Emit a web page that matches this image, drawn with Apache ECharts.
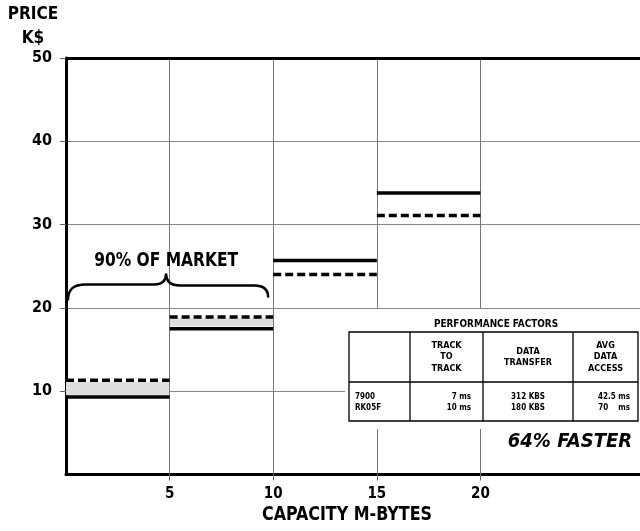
<!DOCTYPE html>
<html>
<head>
<meta charset="utf-8">
<script src="https://cdn.jsdelivr.net/npm/echarts@6/dist/echarts.min.js"></script>
<style>
html,body{margin:0;padding:0;background:#fff;}
#chart{width:640px;height:531px;}
</style>
</head>
<body>
<div id="chart"></div>
<script>
// ---- data ----
const xTickLabels = [5, 10, 15, 20];
const yTickLabels = [10, 20, 30, 40, 50];
const segStart = [0, 5, 10, 15];
const segEnd = [5, 10, 15, 20];
const priceSolid = [9.3, 17.5, 25.7, 33.8];
const priceDashed = [11.3, 18.9, 24.0, 31.1];
const bandStart = [0, 5];
const bandEnd = [5, 10];
const bandLow = [9.5, 17.8];
const bandHigh = [11.1, 18.8];
const marketRange = [0, 10];
const marketLabel = '90% OF MARKET';
const yAxisTitle = ['PRICE', 'K$'];
const xAxisTitle = 'CAPACITY M-BYTES';
const tableTitle = 'PERFORMANCE FACTORS';
const tableHeaders = ['', 'TRACK\nTO\nTRACK', 'DATA\nTRANSFER', 'AVG\nDATA\nACCESS'];
const tableRow = ['7900\nRK05F', '7 ms\n10 ms', '312 KBS\n180 KBS', '42.5 ms\n70    ms'];
const speedNote = '64% FASTER';

// ---- chart ----
const FONT = "'DejaVu Sans Condensed', 'Liberation Sans', sans-serif";
const chart = echarts.init(document.getElementById('chart'), null, {renderer: 'canvas'});

function segmentRenderer(width, dash) {
  return function (params, api) {
    const p0 = api.coord([api.value(0), api.value(2)]);
    const p1 = api.coord([api.value(1), api.value(2)]);
    return {
      type: 'line',
      shape: {x1: p0[0], y1: p0[1], x2: p1[0], y2: p1[1]},
      style: {stroke: '#000', lineWidth: width, lineDash: dash, lineCap: 'butt'}
    };
  };
}

// table layout (pixels)
const colX = [349, 410, 483, 573, 638];
const rowY = [332, 382, 421];
const tableGraphics = [];
tableGraphics.push({type: 'rect', z: 100, shape: {x: 345, y: 309, width: 300, height: 120}, style: {fill: '#fff'}});
tableGraphics.push({type: 'text', z: 101, x: 496, y: 324, scaleX: 0.9, style: {text: tableTitle, font: 'bold 11px ' + FONT, fill: '#000', align: 'center', verticalAlign: 'middle'}});
tableGraphics.push({type: 'rect', z: 101, shape: {x: colX[0], y: rowY[0], width: colX[4] - colX[0], height: rowY[2] - rowY[0]}, style: {fill: 'none', stroke: '#000', lineWidth: 1.3}});
tableGraphics.push({type: 'line', z: 101, shape: {x1: colX[0], y1: rowY[1], x2: colX[4], y2: rowY[1]}, style: {stroke: '#000', lineWidth: 1.3}});
for (let i = 1; i < 4; i++) {
  tableGraphics.push({type: 'line', z: 101, shape: {x1: colX[i], y1: rowY[0], x2: colX[i], y2: rowY[2]}, style: {stroke: '#000', lineWidth: 1.3}});
}
tableHeaders.forEach((t, i) => {
  if (!t) return;
  tableGraphics.push({type: 'text', z: 102, x: (colX[i] + colX[i + 1]) / 2, y: (rowY[0] + rowY[1]) / 2,
    style: {text: t, font: 'bold 9px ' + FONT, lineHeight: 11.5, fill: '#000', align: 'center', verticalAlign: 'middle'}});
});
tableRow.forEach((t, i) => {
  let x = (colX[i] + colX[i + 1]) / 2, align = 'center';
  if (i === 0) { x = colX[0] + 6; align = 'left'; }
  if (i === 1) { x = colX[2] - 12; align = 'right'; }
  if (i === 3) { x = colX[4] - 8; align = 'right'; }
  tableGraphics.push({type: 'text', z: 102, x: x, y: (rowY[1] + rowY[2]) / 2 + 1,
    style: {text: t, font: 'bold 8px ' + FONT, lineHeight: 11, fill: '#000', align: align, verticalAlign: 'middle'}});
});
tableGraphics.push({type: 'text', z: 102, x: 570, y: 442,
  style: {text: speedNote, font: 'italic bold 20px ' + FONT, fill: '#000', align: 'center', verticalAlign: 'middle'}});
tableGraphics.push({type: 'text', z: 102, x: 33, y: 14, scaleX: 0.95,
  style: {text: yAxisTitle[0], font: 'bold 18px ' + FONT, fill: '#000', align: 'center', verticalAlign: 'middle'}});
tableGraphics.push({type: 'text', z: 102, x: 33, y: 38, scaleX: 0.95,
  style: {text: yAxisTitle[1], font: 'bold 18px ' + FONT, fill: '#000', align: 'center', verticalAlign: 'middle'}});
tableGraphics.push({type: 'text', z: 102, x: 347, y: 515, scaleX: 0.93,
  style: {text: xAxisTitle, font: 'bold 19px ' + FONT, fill: '#000', align: 'center', verticalAlign: 'middle'}});

const option = {
  animation: false,
  backgroundColor: '#fff',
  grid: {left: 66, right: 0, top: 58, bottom: 56.5, containLabel: false},
  xAxis: {
    type: 'value', min: 0, max: 27.7, interval: 5,
    axisLine: {show: true, lineStyle: {color: '#000', width: 3}},
    axisTick: {show: true, customValues: xTickLabels, length: 6, lineStyle: {color: '#666', width: 1}},
    axisLabel: {customValues: xTickLabels, color: '#000', fontFamily: FONT, fontWeight: 'bold', fontSize: 15, margin: 12},
    splitLine: {show: false}
  },
  yAxis: {
    type: 'value', min: 0, max: 50, interval: 10,
    axisLine: {show: true, lineStyle: {color: '#000', width: 3}},
    axisTick: {show: true, customValues: yTickLabels, length: 6, lineStyle: {color: '#666', width: 1}},
    axisLabel: {customValues: yTickLabels, color: '#000', fontFamily: FONT, fontWeight: 'bold', fontSize: 16, margin: 14},
    splitLine: {show: true, lineStyle: {color: '#888', width: 1}}
  },
  graphic: tableGraphics,
  series: [
    {
      type: 'custom', name: 'band',
      data: bandStart.map((s, i) => [s, bandEnd[i], bandLow[i], bandHigh[i]]),
      encode: {x: [0, 1], y: [2, 3]},
      renderItem: function (params, api) {
        const a = api.coord([api.value(0), api.value(3)]);
        const b = api.coord([api.value(1), api.value(2)]);
        return {type: 'rect', shape: {x: a[0], y: a[1], width: b[0] - a[0], height: b[1] - a[1]},
          style: {fill: '#dedede'}};
      },
      z: 3
    },
    {
      type: 'custom', name: 'RK05F',
      data: segStart.map((s, i) => [s, segEnd[i], priceDashed[i]]),
      encode: {x: [0, 1], y: 2},
      renderItem: segmentRenderer(3.5, [8, 4]),
      z: 5
    },
    {
      type: 'custom', name: '7900',
      data: segStart.map((s, i) => [s, segEnd[i], priceSolid[i]]),
      encode: {x: [0, 1], y: 2},
      renderItem: segmentRenderer(3.5, null),
      z: 5,
      markLine: {
        silent: true, symbol: 'none', animation: false,
        label: {show: false},
        data: xTickLabels.map(v => ({xAxis: v, lineStyle: {color: '#777', width: 1, type: 'solid'}}))
          .concat([{yAxis: yTickLabels[yTickLabels.length - 1], lineStyle: {color: '#000', width: 3, type: 'solid'}}])
      }
    },
    {
      type: 'custom', name: 'market',
      data: [[marketRange[0], marketRange[1]]],
      encode: {x: [0, 1]},
      renderItem: function (params, api) {
        const pL = api.coord([api.value(0), 21]);
        const pR = api.coord([api.value(1), 21]);
        const L = pL[0] + 2, R = pR[0] - 5, B = pL[1] + 1, M = (L + R) / 2 - 2;
        const bar = B - 16, tip = B - 27;
        const d = 'M' + L + ' ' + B + ' C' + L + ' ' + (B - 11) + ' ' + (L + 5) + ' ' + bar + ' ' + (L + 18) + ' ' + bar +
          ' L' + (M - 12) + ' ' + bar + ' C' + (M - 4) + ' ' + bar + ' ' + M + ' ' + (bar - 4) + ' ' + M + ' ' + tip +
          ' C' + M + ' ' + (bar - 4) + ' ' + (M + 4) + ' ' + (bar + 1) + ' ' + (M + 14) + ' ' + (bar + 1) +
          ' L' + (R - 14) + ' ' + (bar + 1) + ' C' + (R - 4) + ' ' + (bar + 1) + ' ' + R + ' ' + (B - 10) + ' ' + R + ' ' + (B - 3);
        return {
          type: 'group',
          children: [
            {type: 'path', shape: {pathData: d}, style: {stroke: '#000', lineWidth: 2.5, fill: 'none'}},
            {type: 'text', x: M, y: tip - 13, scaleX: 0.86, style: {text: marketLabel, font: 'bold 20px ' + FONT, fill: '#000', align: 'center', verticalAlign: 'middle'}}
          ]
        };
      },
      z: 6
    }
  ]
};
chart.setOption(option);
</script>
</body>
</html>
